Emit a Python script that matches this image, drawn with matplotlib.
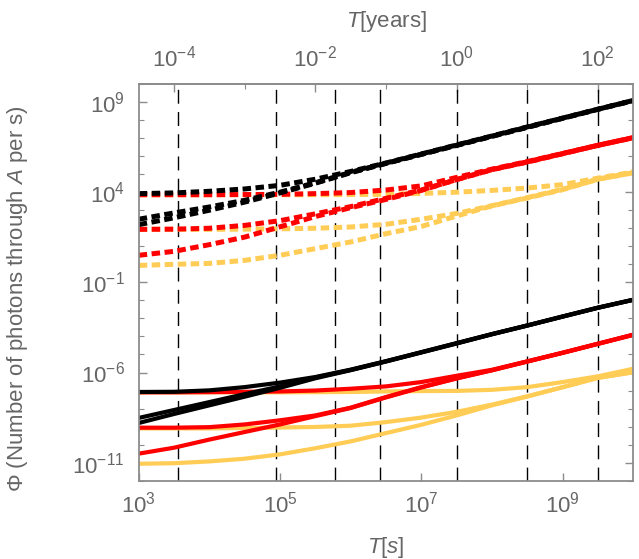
import matplotlib
matplotlib.use('Agg')
import matplotlib.pyplot as plt
import numpy as np
from matplotlib.ticker import FixedLocator, FixedFormatter, NullFormatter

plt.rcParams['font.family'] = ['Liberation Sans', 'DejaVu Sans']
plt.rcParams['mathtext.fontset'] = 'custom'
plt.rcParams['mathtext.rm'] = 'Liberation Sans'
plt.rcParams['mathtext.it'] = 'Liberation Sans:italic'
plt.rcParams['mathtext.default'] = 'regular'

GREY = '#666666'
YELLOW = '#ffcc55'
RED = '#ff0000'
YEAR_S = 3.156e7

# sample points, log10 of T in seconds
log_t = [3, 3.5, 4, 4.5, 5, 5.5, 6, 6.5, 7, 7.5, 8, 8.5, 9, 9.5, 10]

# log10 of flux, dashed curves (upper group)
dash_black_hi = [3.92, 3.96, 4.05, 4.18, 4.38, 4.72, 5.15, 5.62, 6.12, 6.62, 7.12, 7.62, 8.11, 8.6, 9.09]
dash_black_lo1 = [2.5, 2.85, 3.18, 3.55, 4.0, 4.52, 5.1, 5.6, 6.1, 6.6, 7.1, 7.6, 8.1, 8.6, 9.08]
dash_black_lo2 = [2.2, 2.58, 3.0, 3.45, 3.96, 4.5, 5.08, 5.6, 6.1, 6.6, 7.1, 7.6, 8.1, 8.6, 9.08]
dash_red_hi = [3.86, 3.86, 3.86, 3.87, 3.88, 3.92, 3.98, 4.12, 4.35, 4.82, 5.28, 5.7, 6.15, 6.6, 7.03]
dash_red_mid = [1.94, 1.95, 2.0, 2.16, 2.42, 2.8, 3.2, 3.66, 4.12, 4.7, 5.25, 5.68, 6.14, 6.6, 7.02]
dash_red_lo = [0.5, 0.72, 1.09, 1.51, 2.08, 2.65, 3.14, 3.6, 4.1, 4.7, 5.25, 5.67, 6.13, 6.6, 7.02]
dash_yel_hi = [3.86, 3.86, 3.86, 3.86, 3.86, 3.86, 3.87, 3.88, 3.93, 4.0, 4.1, 4.23, 4.42, 4.78, 5.12]
dash_yel_mid = [1.94, 1.94, 1.94, 1.95, 1.97, 2.0, 2.07, 2.22, 2.5, 2.82, 3.25, 3.7, 4.16, 4.72, 5.08]
dash_yel_lo = [-0.06, 0.0, 0.05, 0.22, 0.5, 0.87, 1.24, 1.7, 2.1, 2.68, 3.24, 3.68, 4.14, 4.72, 5.08]

# log10 of flux, solid curves (lower group)
solid_black_hi = [-7.08, -7.07, -6.99, -6.81, -6.56, -6.25, -5.84, -5.37, -4.87, -4.37, -3.87, -3.39, -2.89, -2.4, -1.96]
solid_black_lo1 = [-8.52, -8.08, -7.64, -7.2, -6.77, -6.28, -5.86, -5.38, -4.88, -4.38, -3.87, -3.39, -2.9, -2.41, -1.97]
solid_black_lo2 = [-8.8, -8.3, -7.82, -7.34, -6.85, -6.32, -5.87, -5.39, -4.89, -4.39, -3.88, -3.4, -2.9, -2.41, -1.97]
solid_red_hi = [-7.1, -7.1, -7.09, -7.07, -7.05, -7.0, -6.9, -6.77, -6.53, -6.18, -5.85, -5.38, -4.9, -4.4, -3.9]
solid_red_mid = [-9.06, -9.06, -9.03, -8.88, -8.65, -8.38, -7.95, -7.36, -6.81, -6.32, -5.87, -5.39, -4.91, -4.41, -3.91]
solid_red_lo = [-10.5, -10.17, -9.72, -9.3, -8.88, -8.42, -7.97, -7.38, -6.83, -6.33, -5.88, -5.39, -4.91, -4.41, -3.91]
solid_yel_hi = [-7.1, -7.1, -7.1, -7.1, -7.1, -7.09, -7.08, -7.05, -7.03, -7.02, -6.96, -6.81, -6.53, -6.21, -5.79]
solid_yel_mid = [-9.1, -9.1, -9.1, -9.08, -9.05, -9.02, -8.95, -8.75, -8.5, -8.18, -7.78, -7.32, -6.81, -6.29, -5.98]
solid_yel_lo = [-11.06, -11.03, -10.93, -10.78, -10.54, -10.2, -9.82, -9.36, -8.9, -8.38, -7.82, -7.33, -6.82, -6.3, -5.99]

# reference times: hour, day, week, month, 1 yr, 10 yr, 100 yr
marker_times = [3600, 86400, 604800, 2.63e6, 3.156e7, 3.156e8, 3.156e9]

bottom_ticks = [1e3, 1e5, 1e7, 1e9]
bottom_labels = ['$10^{3}$', '$10^{5}$', '$10^{7}$', '$10^{9}$']
left_ticks = [1e-11, 1e-6, 1e-1, 1e4, 1e9]
left_labels = ['$10^{-11}$', '$10^{-6}$', '$10^{-1}$', '$10^{4}$', '$10^{9}$']
top_ticks = [1e-4, 1e-2, 1e0, 1e2]
top_labels = ['$10^{-4}$', '$10^{-2}$', '$10^{0}$', '$10^{2}$']

fig = plt.figure(figsize=(6.39, 5.59), dpi=100)
ax = fig.add_axes([138.7/639, 1 - 480.7/559, (633.3 - 138.7)/639, (480.7 - 84)/559])

t = 10.0**np.array(log_t)

for tm in marker_times:
    ax.axvline(tm, color='k', lw=1.0, ls=(0, (10, 6)), zorder=1)

dash = (0, (1.7, 0.9))
curves = [
    (dash_yel_hi, YELLOW, dash), (dash_yel_mid, YELLOW, dash), (dash_yel_lo, YELLOW, dash),
    (solid_yel_hi, YELLOW, '-'), (solid_yel_mid, YELLOW, '-'), (solid_yel_lo, YELLOW, '-'),
    (dash_red_hi, RED, dash), (dash_red_mid, RED, dash), (dash_red_lo, RED, dash),
    (solid_red_hi, RED, '-'), (solid_red_mid, RED, '-'), (solid_red_lo, RED, '-'),
    (dash_black_hi, 'k', dash), (dash_black_lo1, 'k', dash), (dash_black_lo2, 'k', dash),
    (solid_black_hi, 'k', '-'), (solid_black_lo1, 'k', '-'), (solid_black_lo2, 'k', '-'),
]
for vals, col, ls in curves:
    lw = 3.6 if ls == dash else 3.0
    ax.plot(t, 10.0**np.array(vals), color=col, ls=ls, lw=lw, zorder=2)

ax.set_xscale('log')
ax.set_yscale('log')
ax.set_xlim(1e3, 1e10)
ax.set_ylim(1e-12, 1e10)

for sp in ax.spines.values():
    sp.set_color('#8c8c8c')
    sp.set_linewidth(1.3)

ax.xaxis.set_major_locator(FixedLocator(bottom_ticks))
ax.xaxis.set_major_formatter(FixedFormatter(bottom_labels))
ax.xaxis.set_minor_locator(FixedLocator([]))
ax.yaxis.set_major_locator(FixedLocator(left_ticks))
ax.yaxis.set_major_formatter(FixedFormatter(left_labels))
ax.yaxis.set_minor_locator(FixedLocator([10.0**k for k in range(-12, 11)]))
ax.yaxis.set_minor_formatter(NullFormatter())
ax.tick_params(axis='both', which='both', direction='in', color='#8c8c8c', labelcolor=GREY,
               labelsize=16, right=True)
ax.tick_params(axis='both', which='major', length=6, width=1.0)
ax.tick_params(axis='both', which='minor', length=3.5, width=0.8)
ax.tick_params(axis='x', pad=8)
ax.tick_params(axis='y', pad=10)

secax = ax.secondary_xaxis('top', functions=(lambda x: x / YEAR_S, lambda y: y * YEAR_S))
secax.xaxis.set_major_locator(FixedLocator(top_ticks))
secax.xaxis.set_major_formatter(FixedFormatter(top_labels))
secax.xaxis.set_minor_locator(FixedLocator([1e-3, 1e-1, 1e1]))
secax.xaxis.set_minor_formatter(NullFormatter())
secax.tick_params(which='both', direction='in', color='#8c8c8c', labelcolor=GREY, labelsize=16, pad=9)
secax.tick_params(which='major', length=6, width=1.0)
secax.tick_params(which='minor', length=3.5, width=0.8)
secax.spines['top'].set_color('#8c8c8c')
secax.spines['top'].set_linewidth(1.3)

fig.text(386/639, 1 - 547/559, r'$\mathit{T}$[$\mathit{s}$]', ha='center', va='center', fontsize=16, color=GREY)
fig.text(386/639, 1 - 21/559, r'$\mathit{T}$[years]', ha='center', va='center', fontsize=16, color=GREY)
fig.text(18/639, 1 - 299/559, r'Φ (Number of photons through $\mathit{A}$ per s)', ha='center', va='center',
         rotation=90, fontsize=16, color=GREY)

fig.savefig('out.png', dpi=100)
